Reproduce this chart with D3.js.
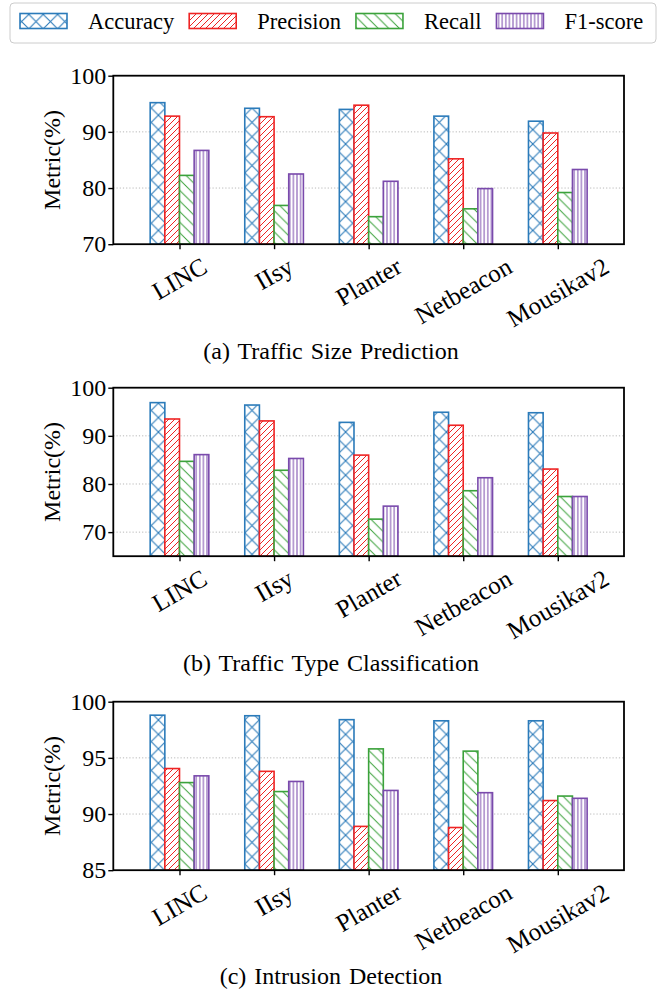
<!DOCTYPE html>
<html>
<head>
<meta charset="utf-8">
<script src="https://cdn.jsdelivr.net/npm/d3@7"></script>
<style>
  body { margin: 0; background: #fff; }
  text { font-family: 'Liberation Serif', 'Times New Roman', serif; fill: #000; }
</style>
</head>
<body>
<div id="chart"></div>
<script>
// categories and metrics
const categories = ['LINC', 'IIsy', 'Planter', 'Netbeacon', 'Mousikav2'];
const metrics = ['Accuracy', 'Precision', 'Recall', 'F1-score'];

// (a) Traffic Size Prediction
const sizeAccuracy  = [95.2, 94.2, 94.0, 92.8, 91.9];
const sizePrecision = [92.8, 92.7, 94.75, 85.2, 89.8];
const sizeRecall    = [82.25, 76.9, 74.9, 76.3, 79.2];
const sizeF1        = [86.7, 82.5, 81.2, 79.9, 83.3];

// (b) Traffic Type Classification
const typeAccuracy  = [96.9, 96.4, 92.8, 94.9, 94.8];
const typePrecision = [93.5, 93.1, 86.0, 92.2, 83.1];
const typeRecall    = [84.7, 82.85, 72.7, 78.6, 77.4];
const typeF1        = [86.1, 85.3, 75.4, 81.3, 77.4];

// (c) Intrusion Detection
const idsAccuracy  = [98.8, 98.75, 98.4, 98.3, 98.3];
const idsPrecision = [94.05, 93.8, 88.9, 88.8, 91.2];
const idsRecall    = [92.8, 92.0, 95.8, 95.6, 91.6];
const idsF1        = [93.4, 92.9, 92.1, 91.9, 91.4];

// y axis settings per panel
const captions = ['(a) Traffic Size Prediction', '(b) Traffic Type Classification', '(c) Intrusion Detection'];
const yDomains = [[70, 100], [65, 100], [85, 100]];
const yTicks = [[70, 80, 90, 100], [70, 80, 90, 100], [85, 90, 95, 100]];

const panels = [
    { caption: captions[0], domain: yDomains[0], ticks: yTicks[0], series: [sizeAccuracy, sizePrecision, sizeRecall, sizeF1] },
    { caption: captions[1], domain: yDomains[1], ticks: yTicks[1], series: [typeAccuracy, typePrecision, typeRecall, typeF1] },
    { caption: captions[2], domain: yDomains[2], ticks: yTicks[2], series: [idsAccuracy, idsPrecision, idsRecall, idsF1] }
];

const width = 662, height = 994;
const colors = ['#2b7bba', '#ee2424', '#3ba23b', '#7a4aac'];
const left = 113.3, right = 624;
const panelTops = [75.7, 387.7, 701.7];
const plotH = 168.5;
const barW = 0.155;

const svg = d3.select('#chart').append('svg')
    .attr('width', width)
    .attr('height', height);

// hatch patterns
const defs = svg.append('defs');
function hatch(id, size, color, paths, sw) {
    const p = defs.append('pattern')
        .attr('id', id)
        .attr('patternUnits', 'userSpaceOnUse')
        .attr('width', size)
        .attr('height', size);
    p.append('rect').attr('width', size).attr('height', size).attr('fill', '#fff');
    paths.forEach(d => p.append('path').attr('d', d)
        .attr('stroke', color).attr('stroke-width', sw).attr('fill', 'none'));
}
const px = 14.4, pr = 6, pg = 10.6, pv = 3.6;
hatch('h0', px, colors[0], [
    `M0,${px} L${px},0 M${-px / 2},${px / 2} L${px / 2},${-px / 2} M${px / 2},${px * 1.5} L${px * 1.5},${px / 2}`,
    `M0,0 L${px},${px} M${-px / 2},${px / 2} L${px / 2},${px * 1.5} M${px / 2},${-px / 2} L${px * 1.5},${px / 2}`
], 1.1);
hatch('h1', pr, colors[1], [`M0,${pr} L${pr},0 M${-pr / 2},${pr / 2} L${pr / 2},${-pr / 2} M${pr / 2},${pr * 1.5} L${pr * 1.5},${pr / 2}`], 1);
hatch('h2', pg, colors[2], [`M0,0 L${pg},${pg} M${-pg / 2},${pg / 2} L${pg / 2},${pg * 1.5} M${pg / 2},${-pg / 2} L${pg * 1.5},${pg / 2}`], 1);
hatch('h3', pv, colors[3], [`M${pv / 2},0 L${pv / 2},${pv}`], 1);

const x = d3.scaleLinear().domain([-0.7, 4.7]).range([left, right]);

panels.forEach((panel, pi) => {
    const top = panelTops[pi];
    const bottom = top + plotH;
    const y = d3.scaleLinear().domain(panel.domain).range([bottom, top]);
    const g = svg.append('g');

    // grid
    g.append('g').selectAll('line')
        .data(panel.ticks.filter(t => t > panel.domain[0] && t < panel.domain[1]))
        .enter().append('line')
        .attr('x1', left).attr('x2', right)
        .attr('y1', d => y(d)).attr('y2', d => y(d))
        .attr('stroke', '#b8b8b8')
        .attr('stroke-width', 1)
        .attr('stroke-dasharray', '1.2,2');

    // bars
    panel.series.forEach((vals, si) => {
        g.append('g').selectAll('rect')
            .data(vals)
            .enter().append('rect')
            .attr('x', (d, i) => x(i + (si - 2) * barW))
            .attr('width', x(barW) - x(0))
            .attr('y', d => y(d))
            .attr('height', d => y(panel.domain[0]) - y(d))
            .attr('fill', `url(#h${si})`)
            .attr('stroke', colors[si])
            .attr('stroke-width', 1.6);
    });

    // y axis
    const yAxis = g.append('g')
        .attr('transform', `translate(${left},0)`)
        .call(d3.axisLeft(y).tickValues(panel.ticks).tickSize(5).tickPadding(2).tickFormat(d3.format('d')));
    yAxis.select('.domain').remove();
    yAxis.selectAll('line').attr('stroke', '#000').attr('stroke-width', 1.4);
    yAxis.selectAll('text').attr('font-size', 24).attr('font-family', 'Liberation Serif');

    // x axis ticks
    const xAxis = g.append('g')
        .attr('transform', `translate(0,${bottom})`)
        .call(d3.axisBottom(x).tickValues(d3.range(categories.length)).tickSize(5).tickFormat(''));
    xAxis.select('.domain').remove();
    xAxis.selectAll('line').attr('stroke', '#000').attr('stroke-width', 1.4);

    // rotated category labels, bbox centred on tick like matplotlib
    categories.forEach((c, i) => {
        const t = g.append('text')
            .attr('font-size', 25)
            .attr('text-anchor', 'middle')
            .attr('dominant-baseline', 'central')
            .text(c);
        const L = t.node().getComputedTextLength();
        const a = Math.PI / 6;
        const h = 25 * 1.0;
        const H = L * Math.sin(a) + h * Math.cos(a);
        t.attr('transform', `translate(${x(i)},${bottom + 9 + H / 2}) rotate(-30)`);
    });

    // frame
    g.append('rect')
        .attr('x', left).attr('y', top)
        .attr('width', right - left).attr('height', plotH)
        .attr('fill', 'none')
        .attr('stroke', '#000')
        .attr('stroke-width', 1.8);

    // y label
    g.append('text')
        .attr('transform', `translate(52,${(top + bottom) / 2}) rotate(-90)`)
        .attr('text-anchor', 'middle')
        .attr('dominant-baseline', 'central')
        .attr('font-size', 24)
        .text('Metric(%)');

    // caption
    g.append('text')
        .attr('x', width / 2)
        .attr('y', [359, 671, 984][pi])
        .attr('text-anchor', 'middle')
        .attr('font-size', 24)
        .attr('word-spacing', 2)
        .text(panel.caption);
});

// legend
const legend = svg.append('g');
legend.append('rect')
    .attr('x', 10).attr('y', 3)
    .attr('width', 646).attr('height', 40)
    .attr('rx', 4)
    .attr('fill', '#fff')
    .attr('stroke', '#cccccc')
    .attr('stroke-width', 1);
let lx = 20;
metrics.forEach((m, i) => {
    legend.append('rect')
        .attr('x', lx).attr('y', 13.5)
        .attr('width', 47).attr('height', 15)
        .attr('fill', `url(#h${i})`)
        .attr('stroke', colors[i])
        .attr('stroke-width', 1.6);
    const t = legend.append('text')
        .attr('x', lx + 68).attr('y', 21)
        .attr('dominant-baseline', 'central')
        .attr('font-size', 22.5)
        .text(m);
    lx += 68 + t.node().getComputedTextLength() + 15;
});
</script>
</body>
</html>
